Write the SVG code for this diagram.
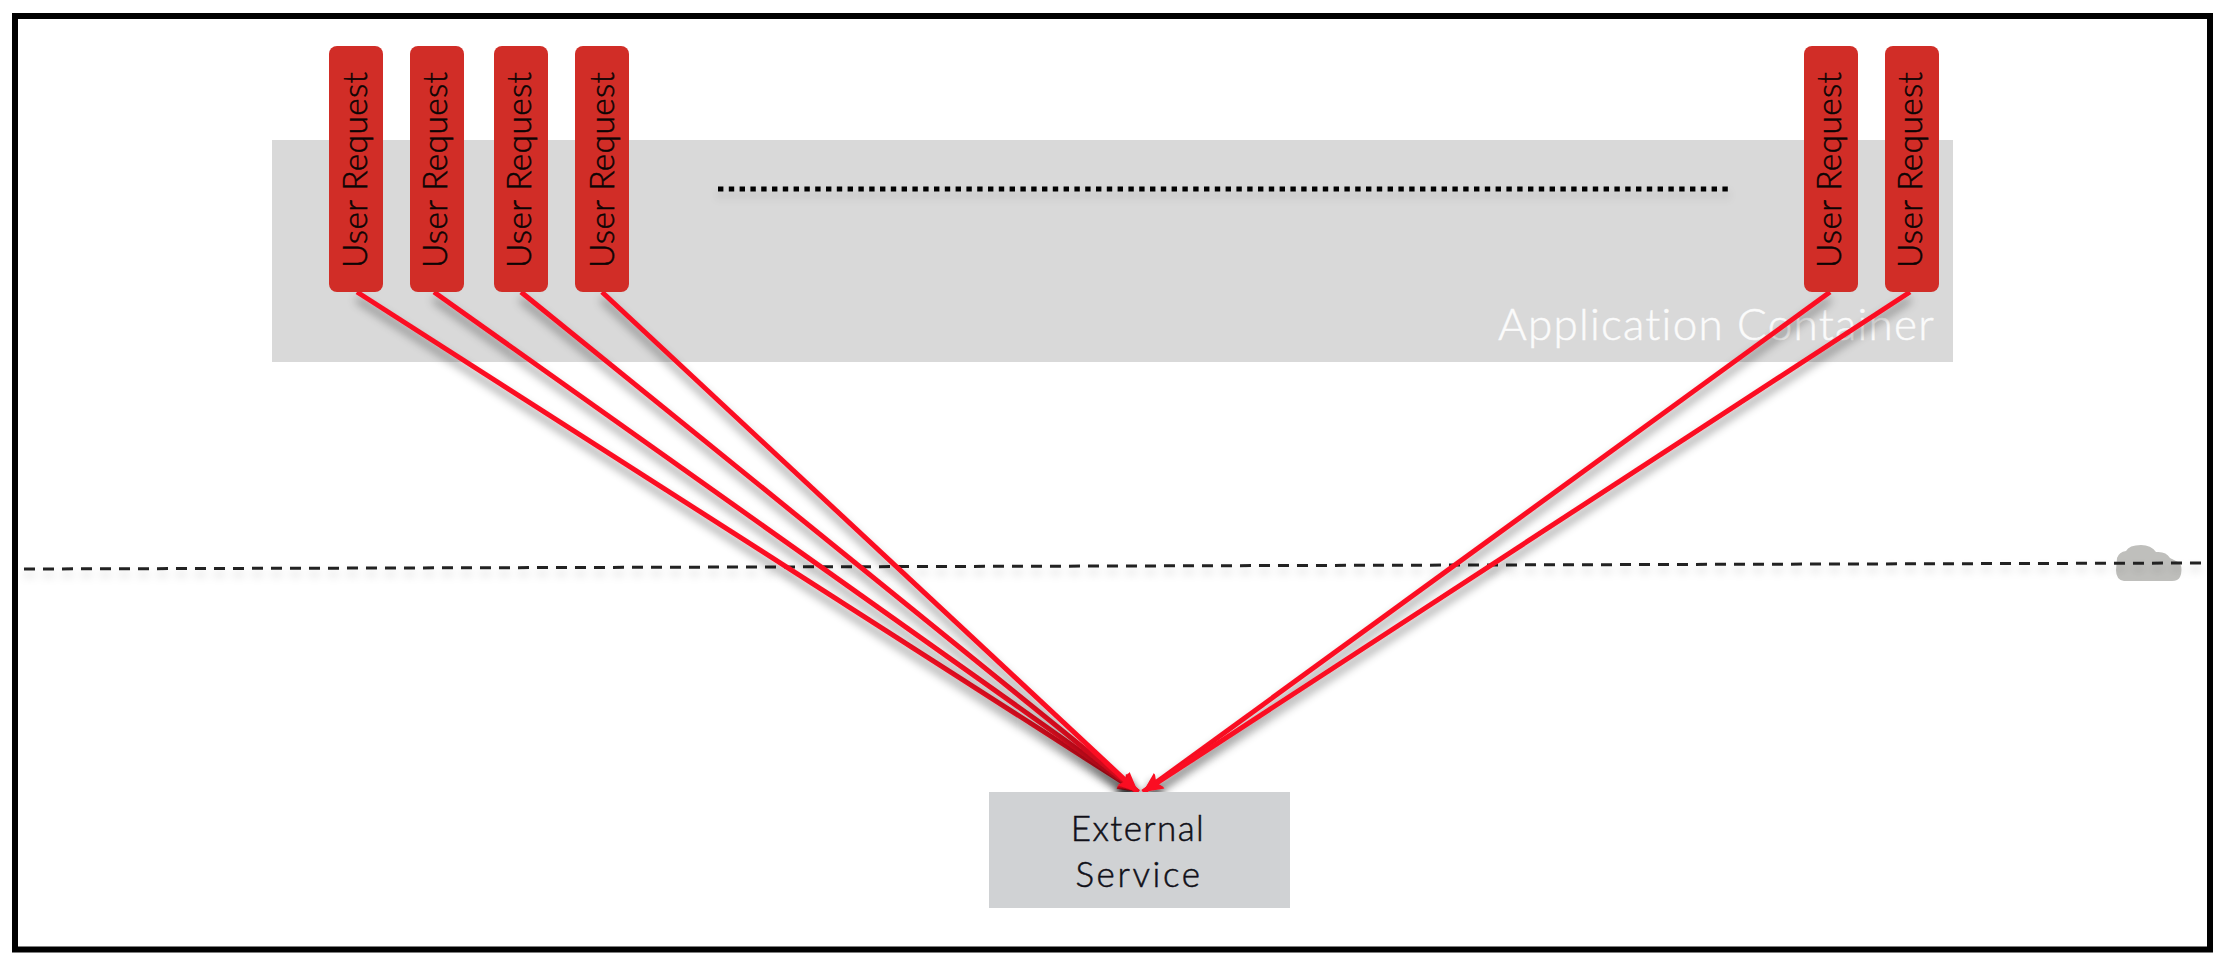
<svg xmlns="http://www.w3.org/2000/svg" width="2228" height="974" viewBox="0 0 2228 974">
<style>
text{font-family:Lato,"Liberation Sans",sans-serif;font-weight:300;font-variant-ligatures:none}
.req{fill:#d12d27}
.req-t{font-size:33.5px;fill:#0c0404;stroke:#0c0404;stroke-width:.5;text-anchor:start;letter-spacing:.35px}
.ext-t{font-size:35px;fill:#101018;stroke:#101018;stroke-width:.5;text-anchor:middle;letter-spacing:1.4px}
.link{stroke:#fb0f23;stroke-width:5;fill:none;marker-end:url(#ah);filter:url(#sh)}
</style>
<defs>
<marker id="ah" markerUnits="userSpaceOnUse" markerWidth="24" markerHeight="20" refX="20" refY="9" orient="auto"><path d="M0 0L20 9L0 18L4 9Z" fill="#fb0f23"/></marker>
<filter id="sh" x="-20%" y="-20%" width="140%" height="140%"><feDropShadow dx="0" dy="7" stdDeviation="5" flood-color="#000" flood-opacity=".45"/></filter>
<filter id="sl" filterUnits="userSpaceOnUse" x="0" y="150" width="2228" height="450"><feDropShadow dx="0" dy="6" stdDeviation="4" flood-color="#000" flood-opacity=".18"/></filter>
</defs>
<rect width="2228" height="974" fill="#fff"/>
<rect id="frame" x="15" y="16" width="2195" height="933.5" fill="none" stroke="#000" stroke-width="6"/>
<g id="application-container">
<rect x="272" y="140" width="1681" height="222" fill="#d9d9d9"/>
<text x="1498" y="340" font-size="44" fill="#fbfbfb" stroke="#fbfbfb" stroke-width=".5" letter-spacing="1.25">Application Container</text>
</g>
<g id="cloud"><path d="M2124 581Q2116 580 2116 570L2117 558Q2119 552 2126 551Q2129 545 2141 545Q2151 545 2156 552Q2166 551 2170 558L2180 563Q2183 570 2180 577Q2178 581 2172 581Z" fill="#bfbfbc"/></g>
<path id="separator" d="M24 569L2205 563" fill="none" stroke="#222" stroke-width="3" stroke-dasharray="11 8" filter="url(#sl)"/>
<path id="dots" d="M718 189H1730" fill="none" stroke="#000" stroke-width="5" stroke-dasharray="5.4 5.4" filter="url(#sl)"/>
<g id="connectors">
<path class="link" d="M357 292L1138 792"/>
<path class="link" d="M434 292L1138 792"/>
<path class="link" d="M521 292L1138 792"/>
<path class="link" d="M602 292L1138 792"/>
<path class="link" d="M1830 292L1143 792"/>
<path class="link" d="M1910 292L1143 792"/>
</g>
<g id="req1"><rect class="req" x="329" y="46" width="54" height="246" rx="8"/><text class="req-t" transform="translate(367 268) rotate(-90)">User Request</text></g>
<g id="req2"><rect class="req" x="410" y="46" width="54" height="246" rx="8"/><text class="req-t" transform="translate(447 268) rotate(-90)">User Request</text></g>
<g id="req3"><rect class="req" x="494" y="46" width="54" height="246" rx="8"/><text class="req-t" transform="translate(531 268) rotate(-90)">User Request</text></g>
<g id="req4"><rect class="req" x="575" y="46" width="54" height="246" rx="8"/><text class="req-t" transform="translate(614 268) rotate(-90)">User Request</text></g>
<g id="req5"><rect class="req" x="1804" y="46" width="54" height="246" rx="8"/><text class="req-t" transform="translate(1841 268) rotate(-90)">User Request</text></g>
<g id="req6"><rect class="req" x="1885" y="46" width="54" height="246" rx="8"/><text class="req-t" transform="translate(1922 268) rotate(-90)">User Request</text></g>
<g id="external-service">
<rect x="989" y="792" width="301" height="116" fill="#d0d2d4"/>
<text class="ext-t" x="1138" y="841">External</text>
<text class="ext-t" x="1139" y="887" style="letter-spacing:2.6px">Service</text>
</g>
</svg>
